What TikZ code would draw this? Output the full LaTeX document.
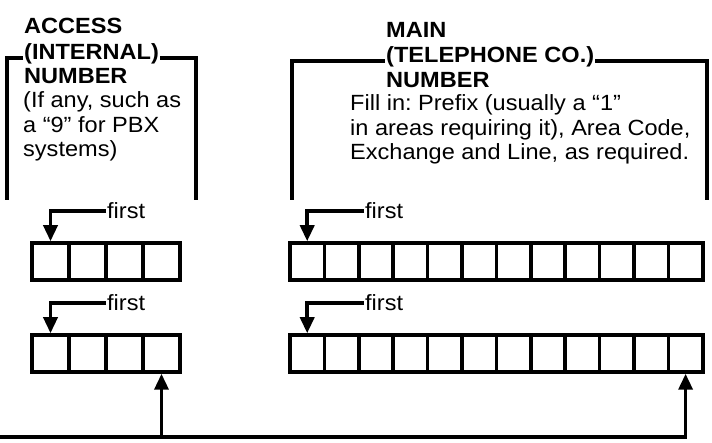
\documentclass[tikz,border=0pt]{standalone}
\usepackage{fontspec}
\setmainfont[FakeStretch=1.07]{Liberation Sans}
\usetikzlibrary{arrows.meta}
\frenchspacing

\begin{document}
\begin{tikzpicture}[x=1pt, y=-1pt,
    every node/.style={font=\fontsize{22}{24.6}\selectfont, inner sep=0pt},
    head/.style={font=\fontsize{22}{24.6}\selectfont\bfseries, anchor=base west, inner sep=1pt},
    desc/.style={align=left, anchor=base west},
    bracket/.style={line width=4pt},
    cell/.style={draw, line width=3.5pt, minimum height=37pt},
    pointer/.style={line width=3.5pt, -{Triangle[length=16pt,width=14pt]}}
  ]
  \useasboundingbox (0,0) rectangle (712,443);

  % Access number heading
  \node[head] (acctop) at (23,34) {ACCESS};
  \node[head] (accmid) at (23,60) {(INTERNAL)};
  \node[head] (accbot) at (23,84) {NUMBER};
  \node[desc] (accnote) at (23,157) {(If any, such as\\a ``9'' for PBX\\systems)};

  % Main number heading
  \node[head] (maintop) at (385,38) {MAIN};
  \node[head] (mainmid) at (385,63) {(TELEPHONE CO.)};
  \node[head] (mainbot) at (385,88) {NUMBER};
  \node[desc] (mainnote) at (350,160) {Fill in: Prefix (usually a ``1''\\in areas requiring it), Area Code,\\Exchange and Line, as required.};

  % Brackets
  \coordinate (accL) at (7,200);
  \coordinate (accR) at (196,200);
  \coordinate (mainL) at (292,200);
  \coordinate (mainR) at (707,200);
  \draw[bracket] ([yshift=-4pt]accmid.west) -| (accL);
  \draw[bracket] ([yshift=-4pt]accmid.east) -| (accR);
  \draw[bracket] ([yshift=-4pt]mainmid.west) -| (mainL);
  \draw[bracket] ([yshift=-4pt]mainmid.east) -| (mainR);

  % Boxes
  \foreach \i in {1,...,4} {
    \node[cell, minimum width=37pt] (accA\i) at (13.5+37*\i,261.5) {};
    \node[cell, minimum width=37pt] (accB\i) at (13.5+37*\i,353.5) {};
  }
  \foreach \i in {1,...,12} {
    \node[cell, minimum width=34.4pt] (mainA\i) at (272.8+34.4*\i,261.5) {};
    \node[cell, minimum width=34.4pt] (mainB\i) at (272.8+34.4*\i,353.5) {};
  }

  % First pointers
  \node[anchor=west, inner sep=1pt] (accfirstA) at (106,211) {first};
  \node[anchor=west, inner sep=1pt] (accfirstB) at (106,303) {first};
  \node[anchor=west, inner sep=1pt] (mainfirstA) at (364,211) {first};
  \node[anchor=west, inner sep=1pt] (mainfirstB) at (364,303) {first};
  \draw[pointer] (accfirstA.west) -| (accA1.north);
  \draw[pointer] (accfirstB.west) -| (accB1.north);
  \draw[pointer] (mainfirstA.west) -| (mainA1.north);
  \draw[pointer] (mainfirstB.west) -| (mainB1.north);

  % Feed line
  \coordinate (bus) at (0,437);
  \draw[pointer] (bus) -| (mainB12.south);
  \draw[pointer] (accB4.south |- bus) -- (accB4.south);
\end{tikzpicture}
\end{document}
